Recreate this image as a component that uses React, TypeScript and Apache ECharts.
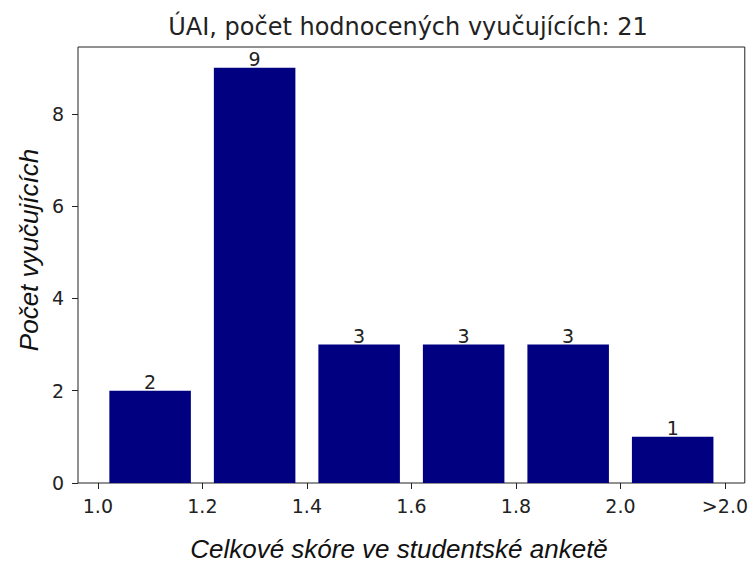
import React, { useEffect, useRef } from "react";
import * as echarts from "echarts";

const binCenters = [1.1, 1.3, 1.5, 1.7, 1.9, 2.1];
const counts = [2, 9, 3, 3, 3, 1];
const xTickValues = [1.0, 1.2, 1.4, 1.6, 1.8, 2.0, 2.2];
const xTickLabels = ["1.0", "1.2", "1.4", "1.6", "1.8", "2.0", ">2.0"];
const yTickValues = [0, 2, 4, 6, 8];
const titleText = "ÚAI, počet hodnocených vyučujících: 21";
const xLabel = "Celkové skóre ve studentské anketě";
const yLabel = "Počet vyučujících";

const BAR_W = 0.156;
const tickFont = "DejaVu Sans";

export default function App() {
  const ref = useRef<HTMLDivElement>(null);
  useEffect(() => {
    if (!ref.current) return;
    const chart = echarts.init(ref.current, null, { renderer: "svg" });
    const data = binCenters.map((c, i) => [c, counts[i]]);
    chart.setOption({
      animation: false,
      backgroundColor: "#fff",
      grid: {
        left: 78,
        right: 3,
        top: 47,
        bottom: 80,
        show: true,
        borderColor: "#222",
        borderWidth: 1,
        backgroundColor: "transparent",
      },
      xAxis: {
        type: "value",
        min: 0.962,
        max: 2.238,
        splitLine: { show: false },
        axisLine: { show: false },
        axisTick: {
          show: true,
          length: 6,
          inside: false,
          customValues: xTickValues,
          lineStyle: { color: "#222" },
        },
        axisLabel: {
          customValues: xTickValues,
          margin: 13,
          fontFamily: tickFont,
          fontSize: 19,
          color: "#222",
          formatter: (v: number) => {
            const idx = xTickValues.findIndex((t) => Math.abs(t - v) < 1e-6);
            return idx >= 0 ? xTickLabels[idx] : "";
          },
        },
      },
      yAxis: {
        type: "value",
        min: 0,
        max: 9.45,
        splitLine: { show: false },
        axisLine: { show: false },
        axisTick: {
          show: true,
          length: 6,
          customValues: yTickValues,
          lineStyle: { color: "#222" },
        },
        axisLabel: {
          customValues: yTickValues,
          margin: 14,
          fontFamily: tickFont,
          fontSize: 19,
          color: "#222",
        },
      },
      series: [
        {
          type: "custom",
          data,
          renderItem: (params: any, api: any) => {
            const x = api.value(0);
            const y = api.value(1);
            const p0 = api.coord([x - BAR_W / 2, y]);
            const p1 = api.coord([x + BAR_W / 2, 0]);
            const top = api.coord([x, y]);
            return {
              type: "group",
              children: [
                {
                  type: "rect",
                  shape: { x: p0[0], y: p0[1], width: p1[0] - p0[0], height: p1[1] - p0[1] },
                  style: { fill: "#000080" },
                },
                {
                  type: "text",
                  x: top[0],
                  y: top[1] + 1,
                  style: {
                    text: String(y),
                    fontFamily: tickFont,
                    fontSize: 19,
                    fill: "#222",
                    textAlign: "center",
                    textVerticalAlign: "bottom",
                  },
                },
              ],
            };
          },
        },
      ],
      graphic: [
        {
          type: "text",
          x: 408,
          y: 27,
          style: {
            text: titleText,
            fontFamily: tickFont,
            fontSize: 24,
            fill: "#222",
            textAlign: "center",
            textVerticalAlign: "middle",
          },
        },
        {
          type: "text",
          x: 399,
          y: 549,
          style: {
            text: xLabel,
            fontFamily: "Liberation Sans",
            fontStyle: "italic",
            fontSize: 26,
            fill: "#111",
            textAlign: "center",
            textVerticalAlign: "middle",
          },
        },
        {
          type: "text",
          x: 29,
          y: 250,
          rotation: Math.PI / 2,
          style: {
            text: yLabel,
            fontFamily: "Liberation Sans",
            fontStyle: "italic",
            fontSize: 26,
            fill: "#111",
            textAlign: "center",
            textVerticalAlign: "middle",
          },
        },
      ],
    });
    return () => chart.dispose();
  }, []);
  return <div ref={ref} style={{ width: 751, height: 563, position: "absolute", left: 0, top: 0 }} />;
}
